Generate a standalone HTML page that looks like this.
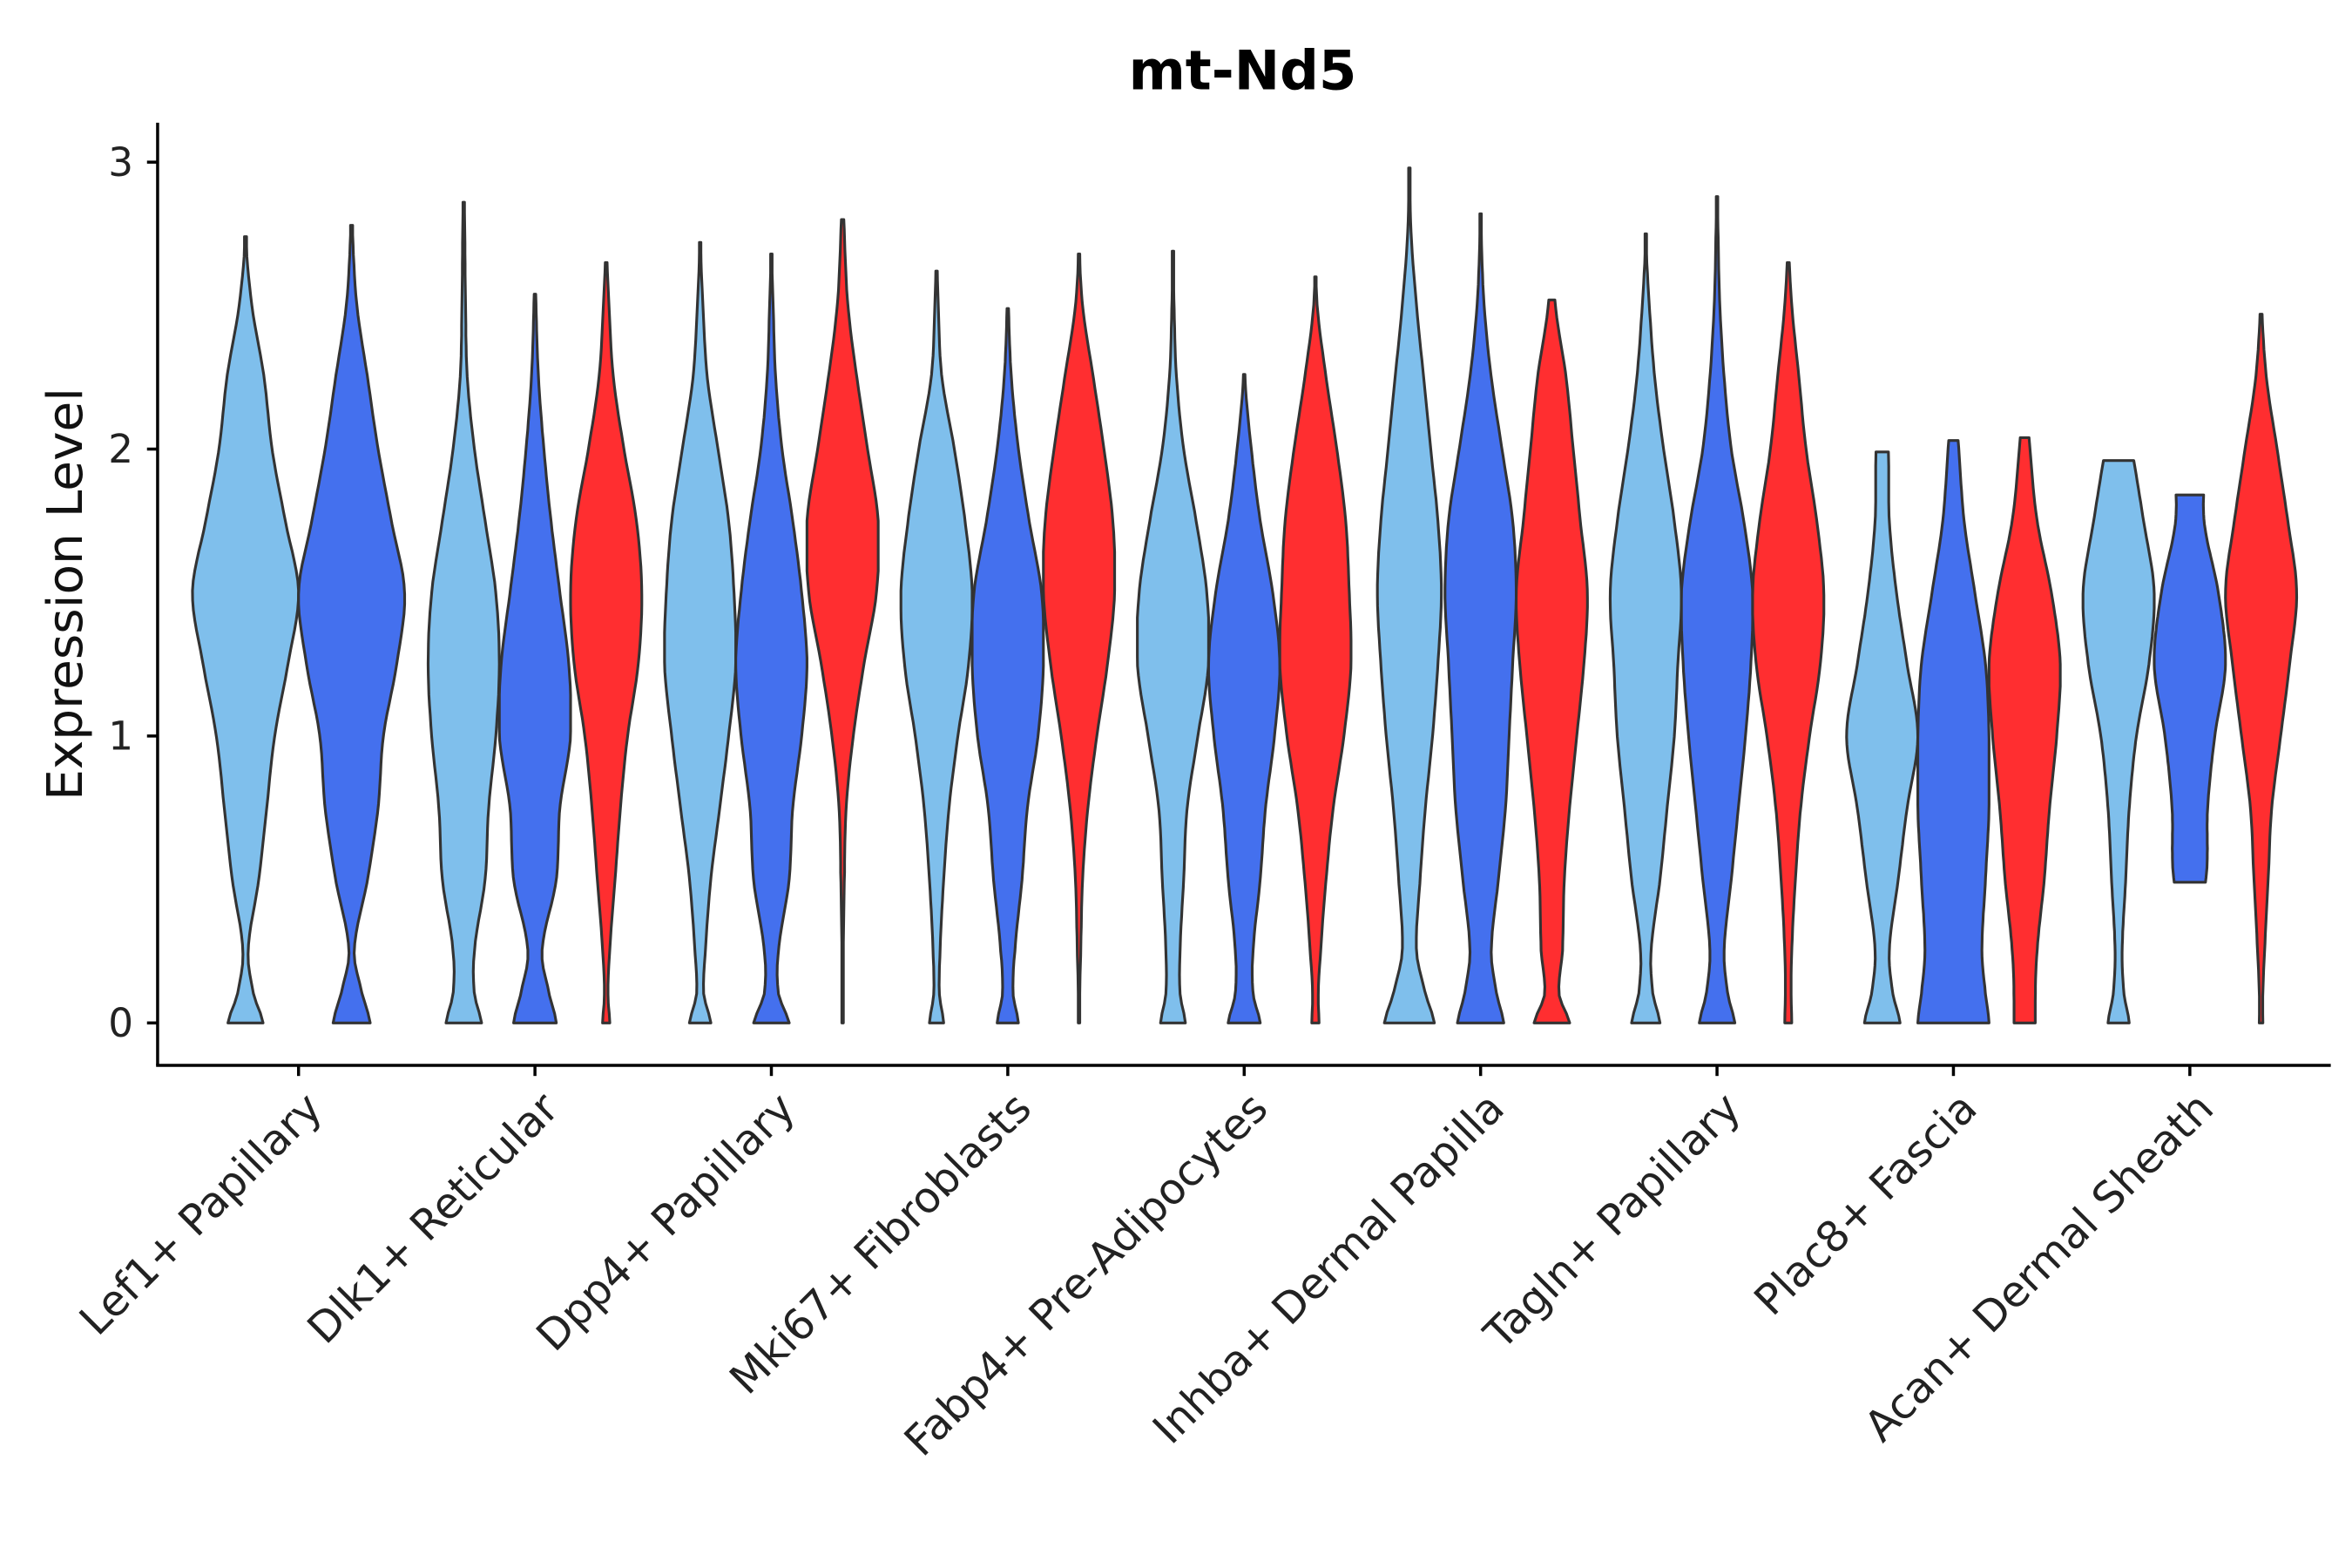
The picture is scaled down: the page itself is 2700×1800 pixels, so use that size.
<!DOCTYPE html>
<html><head><meta charset="utf-8"><style>
html,body{margin:0;padding:0;background:#fff;}
svg{display:block;font-family:"DejaVu Sans","Liberation Sans",sans-serif;}
</style></head><body>
<svg id="chart" width="2700" height="1800" viewBox="0 0 1552 1034.67" xmlns="http://www.w3.org/2000/svg">
<rect width="1552" height="1035" fill="#fff"/>
<text x="820" y="59" text-anchor="middle" font-size="36" font-weight="bold">mt-Nd5</text>
<text transform="translate(54,392) rotate(-90)" text-anchor="middle" font-size="32.5" fill="#111">Expression Level</text>
<g id="violins"></g>
<g id="axes"></g>
</svg>
<script>
const categories = ["Lef1+ Papillary","Dlk1+ Reticular","Dpp4+ Papillary","Mki67+ Fibroblasts","Fabp4+ Pre-Adipocytes","Inhba+ Dermal Papilla","Tagln+ Papillary","Plac8+ Fascia","Acan+ Dermal Sheath"];
const yTicks = [0,1,2,3];
const grid = [0,0.1,0.25,0.5,0.75,1,1.25,1.5,1.75,2,2.25,2.5,2.75,3];
const vCat = [0,0,1,1,1,2,2,2,3,3,3,4,4,4,5,5,5,6,6,6,7,7,7,8,8,8];
const vGroup = [0,1,0,1,2,0,1,2,0,1,2,0,1,2,0,1,2,0,1,2,0,1,2,0,1,2];
const vMin = [0,0,0,0,0,0,0,0,0,0,0,0,0,0,0,0,0,0,0,0,0,0,0,0,0.49,0];
const vMax = [2.74,2.78,2.86,2.54,2.65,2.72,2.68,2.80,2.62,2.49,2.68,2.69,2.26,2.60,2.98,2.82,2.52,2.75,2.88,2.65,1.99,2.03,2.04,1.96,1.84,2.47];
const vWidths = [
[0.33,0.15,0.05,0.25,0.4,0.55,0.8,1.0,0.75,0.5,0.35,0.12,0,0],
[0.35,0.2,0.05,0.3,0.5,0.6,0.85,1.0,0.75,0.5,0.3,0.1,0.02,0],
[0.5,0.3,0.3,0.6,0.7,0.9,1.0,0.9,0.6,0.3,0.1,0.05,0.03,0],
[0.6,0.4,0.2,0.6,0.7,1.0,0.95,0.7,0.45,0.25,0.1,0.03,0,0],
[0.1,0.05,0.1,0.25,0.4,0.6,0.9,1.0,0.85,0.5,0.2,0.08,0,0],
[0.3,0.1,0.15,0.3,0.55,0.8,1.0,0.95,0.8,0.5,0.2,0.08,0,0],
[0.5,0.2,0.2,0.5,0.6,0.85,1.0,0.85,0.6,0.3,0.12,0.05,0,0],
[0.02,0.02,0.02,0.05,0.1,0.3,0.6,0.95,1.0,0.7,0.4,0.15,0.05,0],
[0.2,0.08,0.1,0.2,0.35,0.6,0.9,1.0,0.8,0.5,0.15,0.05,0,0],
[0.3,0.15,0.2,0.4,0.55,0.85,1.0,0.95,0.6,0.3,0.1,0.02,0,0],
[0.02,0.02,0.05,0.1,0.25,0.5,0.8,1.0,0.95,0.7,0.4,0.1,0,0],
[0.35,0.2,0.2,0.3,0.4,0.7,1.0,0.95,0.65,0.3,0.1,0.03,0,0],
[0.45,0.25,0.25,0.45,0.6,0.85,1.0,0.8,0.45,0.2,0.02,0,0,0],
[0.1,0.08,0.15,0.3,0.5,0.8,1.0,0.95,0.85,0.6,0.3,0.05,0,0],
[0.7,0.45,0.2,0.3,0.45,0.65,0.8,0.9,0.8,0.6,0.4,0.2,0.05,0],
[0.65,0.45,0.3,0.5,0.7,0.8,0.9,1.0,0.9,0.6,0.3,0.1,0.02,0],
[0.5,0.2,0.3,0.35,0.5,0.7,0.9,1.0,0.8,0.6,0.4,0.1,0,0],
[0.4,0.2,0.15,0.4,0.6,0.8,0.9,1.0,0.8,0.5,0.25,0.1,0,0],
[0.5,0.3,0.2,0.4,0.6,0.8,0.95,1.0,0.75,0.4,0.2,0.08,0.03,0],
[0.1,0.08,0.1,0.2,0.35,0.6,0.9,1.0,0.8,0.5,0.3,0.1,0,0],
[0.5,0.3,0.2,0.45,0.7,1.0,0.7,0.4,0.2,0.17,0,0,0,0],
[1.0,0.9,0.8,0.9,1.0,1.0,0.9,0.6,0.3,0.15,0,0,0,0],
[0.3,0.3,0.35,0.55,0.7,0.9,1.0,0.75,0.35,0.15,0,0,0,0],
[0.3,0.15,0.1,0.2,0.3,0.5,0.85,1.0,0.7,0.37,0,0,0,0],
[0,0,0,0.45,0.5,0.7,1.0,0.8,0.4,0.4,0,0,0,0],
[0.05,0.05,0.1,0.2,0.3,0.55,0.8,1.0,0.75,0.45,0.15,0.02,0,0]
];
const colors = ["#7fbfec","#4470ee","#ff2e30"];

const NS="http://www.w3.org/2000/svg";
const X0=104, X1=1538, YB=703, C0=197, CSTEP=156;
function yScale(v){return 675 - v*(675-107)/3;}
function xCenter(i){return C0 + i*CSTEP;}
function interp(y,w){
  const n=grid.length;
  for(let k=0;k<n-1;k++){
    if(y>=grid[k]&&y<=grid[k+1]){
      const t=(y-grid[k])/(grid[k+1]-grid[k]);
      const p0=w[Math.max(k-1,0)],p1=w[k],p2=w[k+1],p3=w[Math.min(k+2,n-1)];
      const t2=t*t,t3=t2*t;
      const v=0.5*((2*p1)+(-p0+p2)*t+(2*p0-5*p1+4*p2-p3)*t2+(-p0+3*p1-3*p2+p3)*t3);
      return Math.max(0,Math.min(1,v));
    }
  }
  return 0;
}
const vg=document.getElementById('violins');
const counts={};
vCat.forEach(c=>counts[c]=(counts[c]||0)+1);
const idxIn={};
for(let i=0;i<vCat.length;i++){
  const c=vCat[i]; const n=counts[c];
  idxIn[c]=(idxIn[c]||0); const j=idxIn[c]++;
  const dodge = n===3?47:70;
  const half = n===3?23.5:35;
  const cx = xCenter(c) + (j-(n-1)/2)*dodge;
  const fine=[];
  const steps=80;
  for(let s=0;s<=steps;s++)fine.push(vMin[i]+(vMax[i]-vMin[i])*s/steps);
  const w=vWidths[i];
  const right=fine.map(y=>[cx+Math.max(interp(y,w),0.02)*half,yScale(y)]);
  const left=fine.slice().reverse().map(y=>[cx-Math.max(interp(y,w),0.02)*half,yScale(y)]);
  const pts=right.concat(left).map(p=>p[0].toFixed(1)+','+p[1].toFixed(1)).join(' ');
  const poly=document.createElementNS(NS,'polygon');
  poly.setAttribute('points',pts);
  poly.setAttribute('fill',colors[vGroup[i]]);
  poly.setAttribute('stroke','#333');
  poly.setAttribute('stroke-width','1.8');
  poly.setAttribute('stroke-linejoin','round');
  
  
  vg.appendChild(poly);
}
const ag=document.getElementById('axes');
function line(x1,y1,x2,y2){const l=document.createElementNS(NS,'line');l.setAttribute('x1',x1);l.setAttribute('y1',y1);l.setAttribute('x2',x2);l.setAttribute('y2',y2);l.setAttribute('stroke','#000');l.setAttribute('stroke-width','2');ag.appendChild(l);return l;}
const ya=line(X0,81,X0,YB);


const xa=line(X0-1,YB,X1,YB);


yTicks.forEach(v=>{
  const t=line(X0-7,yScale(v),X0,yScale(v));
  
  
  const tx=document.createElementNS(NS,'text');
  tx.setAttribute('x',X0-16);tx.setAttribute('y',yScale(v)+9);
  tx.setAttribute('text-anchor','end');tx.setAttribute('font-size','26');tx.setAttribute('fill','#222');
  tx.textContent=v;
  
  
  ag.appendChild(tx);
});
categories.forEach((c,i)=>{
  const x=xCenter(i);
  const t=line(x,YB,x,YB+7);
  
  
  const tx=document.createElementNS(NS,'text');
  tx.setAttribute('transform','translate('+(x+17)+','+(YB+30)+') rotate(-45)');
  tx.setAttribute('text-anchor','end');tx.setAttribute('font-size','28');tx.setAttribute('fill','#222');
  tx.textContent=c;
  
  
  ag.appendChild(tx);
});
</script>
</body></html>
